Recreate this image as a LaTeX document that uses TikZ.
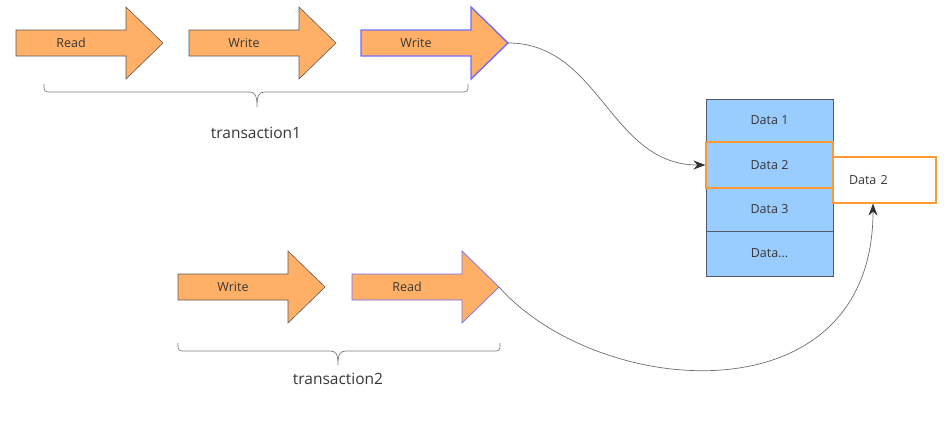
\documentclass[tikz,border=0pt]{standalone}
\usepackage{fontspec}
\setmainfont{Open Sans}
\usetikzlibrary{arrows.meta}
\definecolor{arrfill}{RGB}{255,176,102}
\definecolor{arrline}{RGB}{90,90,90}
\definecolor{hiline}{RGB}{110,110,255}
\definecolor{datafill}{RGB}{153,204,255}
\definecolor{dataline}{RGB}{80,90,105}
\definecolor{orangeline}{RGB}{255,153,51}
\definecolor{txt}{RGB}{55,55,55}
\definecolor{conn}{RGB}{110,110,110}
\definecolor{tipc}{RGB}{50,50,50}
\newcommand{\FatArrow}[5]{%
  \draw[#1] (#3,#4-13) -- ++(110,0) -- ++(0,-23) -- ++(37,36) -- ++(-37,36) -- ++(0,-23) -- ++(-110,0) -- cycle;
  \node[lbl] (#2) at (#3+55,#4) {#5};
  \coordinate (#2tip) at (#3+147,#4);
}
\begin{document}
\begin{tikzpicture}[x=1pt,y=-1pt,
  lbl/.style={text=txt,font=\fontsize{12.5}{14}\selectfont,inner sep=0pt},
  plainarr/.style={fill=arrfill,draw=arrline,line width=0.6pt},
  hiarrA/.style={fill=arrfill,draw=hiline,line width=1.4pt},
  hiarrB/.style={fill=arrfill,draw=hiline,line width=0.7pt},
  brace/.style={draw=conn!90,line width=0.7pt},
  trans/.style={text=txt,font=\fontsize{15.5}{18}\selectfont,inner sep=0pt},
  cell/.style={fill=datafill,draw=dataline,line width=0.7pt,minimum width=127pt,text=txt,font=\fontsize{12.5}{14}\selectfont,inner sep=0pt},
  conline/.style={draw=conn,line width=0.7pt,-{Stealth[length=12pt,width=9pt,color=tipc]}}
]
\useasboundingbox (0,0) rectangle (952,426);

% top transaction
\FatArrow{plainarr}{r1}{16}{43}{Read}
\FatArrow{plainarr}{w1}{189}{43}{Write}
\FatArrow{hiarrA}{w2}{361}{43}{Write}

\draw[brace] (44,84) .. controls (44,92) .. (52,92) -- (249,92)
  .. controls (255,92) and (257,95) .. (257,107)
  .. controls (257,95) and (259,92) .. (265,92) -- (460,92)
  .. controls (468,92) .. (468,84);
\node[trans] (t1) at (256,133) {transaction1};

% bottom transaction
\FatArrow{plainarr}{w3}{178}{287}{Write}
\FatArrow{hiarrB}{r2}{352}{287}{Read}

\draw[brace] (178,343) .. controls (178,351) .. (186,351) -- (330,351)
  .. controls (336,351) and (338,354) .. (338,365)
  .. controls (338,354) and (340,351) .. (346,351) -- (492,351)
  .. controls (500,351) .. (500,343);
\node[trans] (t2) at (338,379) {transaction2};

% data stack
\node[cell,minimum height=43pt] (d1) at (769.5,120.5) {Data 1};
\node[cell,minimum height=43pt] (d3) at (769.5,209.5) {Data 3};
\node[cell,minimum height=45pt] (d4) at (769.5,253.5) {Data...};
\node[cell,minimum height=46pt,draw=orangeline,line width=1.2pt] (d2) at (769.5,165) {Data 2};
\node[draw=orangeline,line width=1.2pt,fill=white,minimum width=103pt,minimum height=46pt,text width=71pt,align=left,inner xsep=16pt,inner ysep=0pt,text=txt,font=\fontsize{12.5}{14}\selectfont] (c2) at (884.5,180) {Data 2};

% connectors
\draw[conline] (w2tip) .. controls (600,43) and (610,165) .. (d2.west);
\draw[conline] (r2tip) .. controls (600,400) and (873,420) .. ([xshift=-11.5pt]c2.south);
\end{tikzpicture}
\end{document}
